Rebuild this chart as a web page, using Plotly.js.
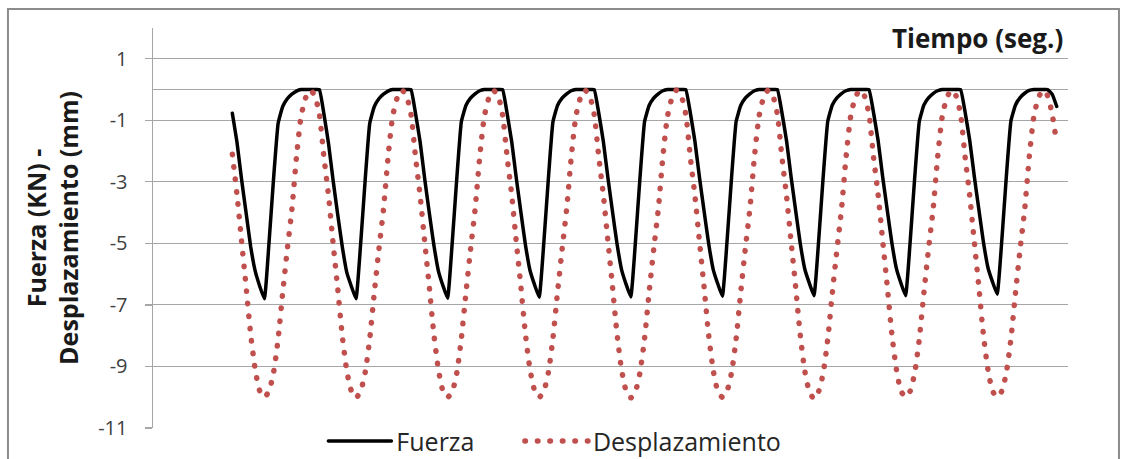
<!DOCTYPE html>
<html>
<head>
<meta charset="utf-8">
<script src="https://cdn.plot.ly/plotly-3.0.1.min.js"></script>
<style>
  html, body { margin: 0; padding: 0; background: #ffffff; }
  #chart { width: 1125px; height: 459px; }
  .js-line { stroke-linecap: round; }
</style>
</head>
<body>
<div id="chart"></div>
<script>
// Sampling of the time axis (seconds) – the x positions are produced by Plotly from x0/dx
const timeStart = 0;
const timeStep = 0.05;

// Fuerza (KN), one value per sample
const fuerza = [
  -0.77,-1.70,-2.90,-4.00,-5.10,-5.90,-6.40,-6.80,-5.00,-2.90,-1.10,-0.55,-0.30,-0.15,-0.05,0,0,0,0,0,
  -0.80,-1.75,-2.95,-4.05,-5.10,-5.95,-6.40,-6.80,-5.05,-2.95,-1.10,-0.55,-0.30,-0.15,-0.05,0,0,0,0,0,
  -0.78,-1.70,-2.90,-4.00,-5.05,-5.90,-6.38,-6.78,-5.00,-2.90,-1.05,-0.52,-0.28,-0.14,-0.04,0,0,0,0,0,
  -0.78,-1.70,-2.88,-3.98,-5.05,-5.88,-6.35,-6.75,-5.00,-2.90,-1.05,-0.52,-0.28,-0.14,-0.04,0,0,0,0,0,
  -0.76,-1.68,-2.86,-3.96,-5.02,-5.86,-6.34,-6.74,-4.98,-2.88,-1.05,-0.52,-0.28,-0.14,-0.04,0,0,0,0,0,
  -0.76,-1.68,-2.86,-3.95,-5.00,-5.85,-6.32,-6.72,-4.96,-2.86,-1.04,-0.52,-0.28,-0.14,-0.04,0,0,0,0,0,
  -0.75,-1.66,-2.84,-3.94,-5.00,-5.84,-6.30,-6.70,-4.95,-2.85,-1.04,-0.50,-0.27,-0.13,-0.04,0,0,0,0,0,
  -0.75,-1.66,-2.84,-3.92,-4.98,-5.82,-6.30,-6.70,-4.94,-2.84,-1.03,-0.50,-0.27,-0.13,-0.04,0,0,0,0,0,
  -0.74,-1.65,-2.82,-3.90,-4.96,-5.80,-6.26,-6.65,-4.92,-2.82,-1.02,-0.50,-0.26,-0.12,-0.03,0,0,0,0,-0.15,
  -0.55
];

// Desplazamiento (mm), one value per sample
const desplazamiento = [
  -2.10,-3.40,-4.90,-6.40,-7.95,-9.10,-9.80,-10.00,-9.80,-9.20,-8.10,-6.60,-5.20,-3.90,-2.20,-0.88,-0.27,-0.02,-0.20,-0.80,
  -2.20,-3.45,-5.00,-6.45,-8.00,-9.15,-9.80,-10.02,-9.80,-9.20,-8.10,-6.60,-5.20,-3.90,-2.20,-0.88,-0.27,-0.02,-0.20,-0.80,
  -2.20,-3.45,-4.95,-6.40,-7.95,-9.10,-9.80,-10.00,-9.82,-9.22,-8.10,-6.62,-5.22,-3.90,-2.22,-0.90,-0.28,-0.03,-0.20,-0.82,
  -2.20,-3.42,-4.95,-6.40,-7.95,-9.10,-9.78,-10.00,-9.80,-9.20,-8.08,-6.60,-5.20,-3.88,-2.20,-0.88,-0.27,-0.02,-0.20,-0.80,
  -2.18,-3.42,-4.92,-6.40,-7.95,-9.12,-9.80,-10.02,-9.82,-9.20,-8.10,-6.60,-5.20,-3.90,-2.20,-0.88,-0.27,-0.02,-0.20,-0.80,
  -2.20,-3.45,-4.95,-6.42,-7.98,-9.12,-9.80,-10.00,-9.80,-9.20,-8.10,-6.60,-5.18,-3.88,-2.18,-0.88,-0.26,-0.02,-0.20,-0.80,
  -2.20,-3.45,-4.95,-6.42,-7.98,-9.15,-9.82,-10.05,-9.82,-9.22,-8.12,-6.62,-5.22,-3.90,-2.20,-0.88,-0.27,-0.02,-0.20,-0.80,
  -2.20,-3.42,-4.92,-6.40,-7.95,-9.10,-9.80,-10.00,-9.80,-9.20,-8.10,-6.60,-5.20,-3.90,-2.20,-0.88,-0.27,-0.02,-0.20,-0.80,
  -2.20,-3.45,-4.95,-6.42,-7.98,-9.12,-9.80,-10.00,-9.80,-9.20,-8.10,-6.60,-5.20,-3.90,-2.20,-0.88,-0.27,-0.02,-0.20,-0.80,
  -1.75
];

// Axis ticks
const yTickValues = [-11, -9, -7, -5, -3, -1, 1];
const yTickLabels = ['-11', '-9', '-7', '-5', '-3', '-1', '1'];

const FONT = '"Open Sans", "Liberation Sans", sans-serif';

const traces = [
  {
    type: 'scatter', mode: 'lines', name: 'Fuerza', legend: 'legend',
    x0: timeStart, dx: timeStep, y: fuerza,
    line: { color: '#000000', width: 3.5, shape: 'spline', smoothing: 0.35 },
    hoverinfo: 'skip'
  },
  {
    type: 'scatter', mode: 'lines', name: 'Desplazamiento', legend: 'legend2',
    x0: timeStart, dx: timeStep, y: desplazamiento,
    line: { color: '#C0504D', width: 5.5, dash: '0.5px,12px', shape: 'spline', smoothing: 0.6 },
    hoverinfo: 'skip'
  }
];

const legendCommon = {
  orientation: 'h', y: -0.033, yanchor: 'middle', xanchor: 'left',
  font: { family: FONT, size: 25, color: '#262626' },
  bgcolor: 'rgba(0,0,0,0)', itemwidth: 63, tracegroupgap: 0
};

const layout = {
  width: 1125, height: 459,
  margin: { l: 153, r: 57, t: 28, b: 31, pad: 0, autoexpand: false },
  paper_bgcolor: '#ffffff', plot_bgcolor: '#ffffff',
  font: { family: FONT, color: '#262626' },
  showlegend: true,
  legend: Object.assign({}, legendCommon, { x: 0.1862 }),
  legend2: Object.assign({}, legendCommon, { x: 0.4010 }),
  xaxis: {
    range: [-0.866, 9.123], showgrid: false, zeroline: false, showline: false,
    showticklabels: false, ticks: '', fixedrange: true
  },
  yaxis: {
    range: [-11, 2], tickvals: yTickValues, ticktext: yTickLabels,
    showgrid: true, gridcolor: '#a6a6a6', gridwidth: 1,
    zeroline: true, zerolinecolor: '#a6a6a6', zerolinewidth: 1.2,
    showline: true, linecolor: '#a6a6a6', linewidth: 1.5,
    ticks: 'outside', ticklen: 7, tickwidth: 1.2, tickcolor: '#a6a6a6',
    ticklabelstandoff: 13,
    tickfont: { family: FONT, size: 20, color: '#404040' },
    title: {
      text: 'Fuerza (KN) -<br>Desplazamiento (mm)',
      font: { family: FONT, size: 25, color: '#1a1a1a', weight: 'bold' },
      standoff: 12
    },
    fixedrange: true
  },
  annotations: [
    {
      text: 'Tiempo (seg.)', xref: 'paper', yref: 'paper',
      x: 0.9967, y: 0.975, xanchor: 'right', yanchor: 'middle', showarrow: false,
      font: { family: FONT, size: 26, color: '#1a1a1a', weight: 'bold' }
    }
  ],
  shapes: [
    {
      type: 'rect', xref: 'paper', yref: 'paper',
      x0: -0.1585, x1: 1.0557, y0: -0.2, y1: 1.0475,
      line: { color: '#8c8c8c', width: 2 }, fillcolor: 'rgba(0,0,0,0)', layer: 'below'
    }
  ]
};

Plotly.newPlot('chart', traces, layout, { displayModeBar: false, staticPlot: true });
</script>
</body>
</html>
